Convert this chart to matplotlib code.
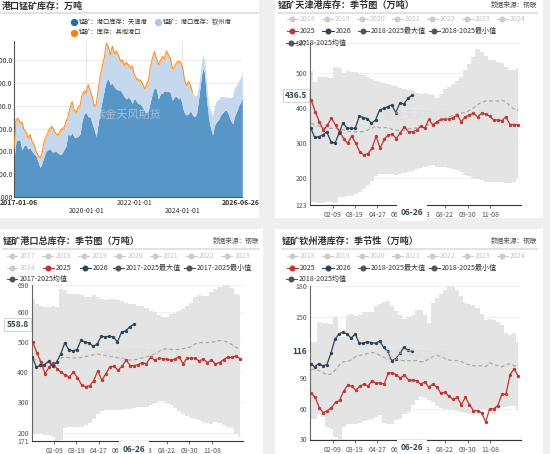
import matplotlib
matplotlib.use("Agg")
import matplotlib.pyplot as plt
import numpy as np
import pandas as pd
from matplotlib.lines import Line2D
from matplotlib.patches import Rectangle

plt.rcParams["font.family"] = ["Noto Sans CJK SC", "DejaVu Sans"]

# -----------------------------------------------------------------------------
# Panel 1: stacked port inventory (monthly readings, 万吨)
# -----------------------------------------------------------------------------
tianjin = [
    176, 245, 250, 250, 205, 225, 228, 210, 215, 200,
    188, 180, 155, 128, 147, 176, 200, 207, 212, 198,
    198, 200, 191, 185, 191, 210, 225, 279, 268, 282,
    263, 262, 266, 277, 337, 365, 370, 352, 352, 323,
    295, 265, 323, 381, 425, 470, 510, 520, 494, 499,
    484, 473, 470, 470, 455, 440, 430, 440, 428, 411,
    435, 420, 410, 408, 396, 381, 370, 380, 420, 455,
    482, 472, 430, 455, 455, 468, 462, 465, 457, 425,
    440, 442, 430, 438, 396, 367, 360, 365, 378, 360,
    352, 365, 430, 500, 565, 545,
    425, 345, 305, 272, 315, 330, 340, 360, 370, 380, 380, 360,
    335, 320, 355, 375, 400, 415, 436.5,
]
qinzhou = [
    36, 87, 87, 70, 117, 63, 49, 43, 52, 37,
    32, 12, 20, 36, 35, 56, 54, 70, 80, 105,
    84, 72, 72, 97, 101, 87, 97, 65, 113, 128,
    110, 102, 122, 118, 102, 92, 82, 131, 109, 109,
    97, 132, 138, 141, 139, 132, 156, 132, 121, 153,
    138, 159, 147, 119, 138, 131, 152, 132, 132, 153,
    92, 93, 97, 96, 95, 88, 112, 122, 142, 145,
    148, 130, 142, 137, 153, 132, 170, 152, 144, 132,
    124, 140, 160, 146, 168, 138, 122, 137, 104, 94,
    93, 82, 54, 57, 58, 55,
    70, 58, 75, 83, 86, 93, 88, 80, 72, 62, 55, 80,
    100, 125, 125, 118, 110, 110, 116,
]
other_ports = [
    6, 8, 9, 8, 7, 8, 9, 8, 7, 8,
    9, 8, 8, 7, 8, 9, 8, 8, 9, 8,
    8, 7, 8, 8, 9, 8, 8, 9, 10, 9,
    8, 8, 9, 9, 8, 9, 9, 10, 9, 8,
    9, 9, 10, 10, 11, 10, 11, 10, 10, 11,
    10, 10, 9, 10, 10, 9, 10, 9, 10, 10,
    9, 9, 8, 9, 9, 8, 9, 9, 10, 10,
    10, 9, 10, 9, 10, 10, 9, 9, 9, 8,
    9, 9, 8, 9, 8, 8, 8, 7, 7, 6,
] + [None] * 25

# -----------------------------------------------------------------------------
# Seasonal panels (weekly readings, 万吨)
# -----------------------------------------------------------------------------
tj_max = [505, 475, 488, 490, 488, 485, 518, 515, 500, 505, 504, 503, 498, 495,
          490, 482, 478, 475, 472, 470, 467, 462, 458, 455, 451, 448, 443, 440,
          442, 440, 436, 428, 440, 455, 461, 468, 478, 488, 508, 525, 545, 570,
          560, 550, 538, 537, 533, 528, 518, 510, 508, 515]
tj_min = [133, 131, 130, 128, 133, 131, 130, 145, 147, 148, 150, 155, 160, 170,
          180, 192, 205, 213, 212, 213, 212, 209, 213, 215, 217, 220, 225, 228,
          232, 235, 237, 233, 232, 232, 229, 225, 222, 218, 210, 205, 200, 197,
          194, 190, 190, 190, 190, 188, 187, 186, 188, 200]
tj_mean = [356, 352, 348, 344, 342, 342, 343, 339, 337, 334, 332, 332, 332, 333,
           338, 343, 348, 343, 344, 344, 339, 337, 335, 337, 341, 342, 343, 347,
           349, 353, 355, 358, 366, 371, 375, 379, 383, 386, 387, 393, 400, 410,
           416, 420, 420, 421, 420, 422, 418, 406, 397, 394]
tj_2025 = [423, 390, 361, 337, 351, 371, 351, 332, 313, 299, 320, 299, 275, 266,
           270, 285, 320, 285, 311, 323, 325, 313, 330, 347, 332, 332, 337, 348,
           342, 368, 351, 361, 368, 368, 368, 373, 380, 361, 375, 380, 385, 375,
           385, 383, 377, 366, 366, 364, 375, 353, 353, 351]
tj_2026 = [344, 316, 318, 323, 332, 304, 299, 328, 358, 342, 342, 342, 377, 373,
           370, 356, 366, 394, 399, 404, 409, 387, 414, 412, 428, 436.5]

tot_max = [644, 625, 618, 616, 616, 618, 616, 677, 671, 660, 660, 660, 655, 649,
           649, 655, 650, 644, 638, 642, 644, 640, 636, 630, 627, 625, 621, 619,
           614, 603, 598, 588, 582, 584, 592, 596, 603, 610, 620, 630, 649, 655,
           651, 652, 665, 677, 683, 687, 688, 680, 660, 655]
tot_min = [196, 196, 196, 191, 191, 185, 172, 174, 216, 218, 218, 218, 220, 224,
           230, 244, 262, 270, 274, 274, 275, 276, 276, 277, 279, 282, 285, 285,
           286, 290, 298, 306, 305, 298, 290, 282, 270, 260, 254, 248, 245, 240,
           236, 230, 228, 235, 232, 226, 220, 214, 195, 186]
tot_mean = [445, 440, 435, 430, 430, 430, 428, 448, 450, 448, 447, 447, 449, 452,
            455, 458, 460, 458, 455, 452, 450, 448, 446, 442, 440, 441, 444, 448,
            452, 455, 460, 468, 475, 478, 476, 475, 476, 478, 480, 485, 494, 497,
            499, 498, 500, 501, 505, 503, 500, 492, 483, 476]
tot_2025 = [499, 464, 434, 395, 417, 430, 410, 400, 390, 385, 400, 382, 358, 352,
            355, 372, 405, 373, 395, 418, 420, 407, 420, 440, 422, 422, 425, 432,
            428, 450, 440, 447, 445, 443, 440, 443, 452, 428, 447, 446, 446, 437,
            444, 432, 440, 428, 432, 442, 450, 449, 454, 445]
tot_2026 = [450, 417, 423, 425, 436, 420, 434, 460, 497, 475, 471, 475, 506, 500,
            497, 486, 493, 519, 517, 519, 517, 500, 533, 537, 550, 558.8]

qz_max = [125, 125, 145, 144, 144, 143, 150, 130, 130, 152, 153, 151, 152, 155,
          155, 155, 160, 162, 164, 165, 160, 156, 152, 148, 150, 152, 157, 157,
          152, 144, 163, 168, 172, 176, 181, 180, 176, 170, 163, 162, 161, 158,
          153, 147, 148, 147, 145, 142, 134, 132, 134, 125]
qz_min = [50, 50, 55, 52, 42, 40, 32, 30, 42, 45, 45, 45, 46, 48, 49, 50, 52, 54,
          46, 45, 45, 49, 50, 55, 57, 64, 68, 71, 70, 68, 66, 63, 61, 60, 59, 59,
          58, 57, 56, 55, 54, 56, 60, 60, 58, 55, 60, 62, 62, 63, 63, 60]
qz_mean = [98, 99, 97, 95, 93, 94, 98, 103, 106, 106, 108, 111, 112, 113, 114,
           115, 114, 112, 110, 109, 108, 107.5, 107, 107, 107, 107, 107, 106, 106,
           109, 111, 112, 111, 109, 107.5, 107, 107, 106, 104, 103, 102, 102, 102,
           101, 105, 103, 102, 101, 103, 104, 102, 101]
qz_2025 = [75, 71, 61, 56, 58, 61, 66, 68, 77, 83, 82, 78, 82, 84, 82, 87, 85, 85,
           84, 95, 95, 93, 90, 93, 88, 88, 87, 84, 86, 81, 84, 81, 75, 76, 72, 69,
           71, 64, 71, 64, 58, 58, 56, 47, 60, 60, 63, 74, 74, 93, 99, 92]
qz_2026 = [104, 101, 104, 102, 103, 114, 128, 133, 135, 133, 129, 133, 124, 124,
           125.5, 124.5, 124, 126, 120, 116, 107, 109, 114, 120, 117, 116]

season_ticks = ["02-09", "03-19", "04-27", "06-04", "07-13", "08-22", "09-30", "11-08"]
current_day = "06-26"

# -----------------------------------------------------------------------------
# Figure helpers (pixel coordinates, origin top-left)
# -----------------------------------------------------------------------------
W, H = 550, 454
fig = plt.figure(figsize=(W / 100, H / 100), dpi=100)
fig.patch.set_facecolor("#efefef")

RED = "#c23531"
NAVY = "#2f4554"
BAND = "#e4e4e4"
TXT = "#333333"


def px_axes(l, t, r, b):
    return fig.add_axes([l / W, 1 - b / H, (r - l) / W, (b - t) / H])


def ftext(x, y, s, **kw):
    return fig.text(x / W, 1 - y / H, s, **kw)


def hline(x0, x1, y, color="#dddddd", lw=1.2):
    fig.add_artist(Line2D([x0 / W, x1 / W], [1 - y / H] * 2, color=color, lw=lw))


def legend_line(xc, y, color, label, tcolor):
    yy = 1 - y / H
    fig.add_artist(Line2D([(xc - 5.5) / W, (xc + 5.5) / W], [yy, yy], color=color, lw=0.8))
    fig.add_artist(Line2D([xc / W], [yy], color=color, marker="o", ms=3.3, ls="none"))
    ftext(xc + 8, y, label, color=tcolor, fontsize=5.1, va="center", ha="left")


def legend_dot(xc, y, color, label):
    fig.add_artist(Line2D([xc / W], [1 - y / H], color=color, marker="o", ms=4.3, ls="none"))
    ftext(xc + 5, y, label, color=TXT, fontsize=4.5, va="center", ha="left")


# white panel cards on the grey page
for (l, t, r, b) in [(0, 0, 259, 218), (275, 0, 543, 218), (0, 229, 263, 454), (275, 229, 543, 454)]:
    fig.add_artist(Rectangle((l / W, 1 - b / H), (r - l) / W, (b - t) / H,
                             transform=fig.transFigure, facecolor="white", edgecolor="none", zorder=-5))

# -----------------------------------------------------------------------------
# Panel 1
# -----------------------------------------------------------------------------
dates = pd.to_datetime(["2017-01-06"]).append(pd.date_range("2017-02-01", "2026-06-01", freq="MS"))
dates = dates.append(pd.to_datetime(["2026-06-26"]))
t_arr = np.array(tianjin, dtype=float)
q_arr = np.array(qinzhou, dtype=float)
o_arr = np.array([np.nan if v is None else v for v in other_ports], dtype=float)
o_fill = np.nan_to_num(o_arr)

ax1 = px_axes(14.3, 40.7, 242.3, 196.7)
ax1.fill_between(dates, 0, t_arr, color="#5896c8", lw=0, zorder=2)
ax1.fill_between(dates, t_arr, t_arr + q_arr, color="#c6d8ee", lw=0, zorder=2)
ax1.fill_between(dates, t_arr + q_arr, t_arr + q_arr + o_fill, color="#ffb066", lw=0, zorder=2)
ax1.plot(dates, t_arr + q_arr + o_arr, color="#ff8c1a", lw=0.7, zorder=3)
ax1.set_xlim(dates[0], dates[-1])
ax1.set_ylim(0, 687)
ax1.set_yticks([0, 100, 200, 300, 400, 500, 600])
ax1.set_yticklabels(["0.000", "100.0", "200.0", "300.0", "400.0", "500.0", "600.0"])
ax1.tick_params(axis="y", length=0, pad=1.2, labelsize=5, labelcolor=TXT)
ax1.set_xticks([])
ax1.grid(axis="y", color="#e8e8e8", lw=0.6, zorder=0)
ax1.set_axisbelow(True)
for d in ["2020-01-01", "2024-01-01"]:
    ax1.axvline(pd.Timestamp(d), color="#e0e0e0", lw=0.6, zorder=1)
for s in ["top", "right"]:
    ax1.spines[s].set_visible(False)
for s in ["left", "bottom"]:
    ax1.spines[s].set_color("#555555")
    ax1.spines[s].set_linewidth(0.8)

# time-axis labels: ends bold, middle labels alternate in two rows
xt = ax1.get_xaxis_transform()
ax1.text(dates[0] - pd.Timedelta(days=215), -0.04, "2017-01-06", transform=xt, ha="left",
         va="center", fontsize=5, fontweight="bold", color=TXT, clip_on=False)
ax1.text(dates[-1] + pd.Timedelta(days=260), -0.04, "2026-06-26", transform=xt, ha="right",
         va="center", fontsize=5, fontweight="bold", color=TXT, clip_on=False)
ax1.text(pd.Timestamp("2022-01-01"), -0.04, "2022-01-01", transform=xt, ha="center", va="center",
         fontsize=5, color=TXT, clip_on=False)
for d in ["2020-01-01", "2024-01-01"]:
    ax1.text(pd.Timestamp(d), -0.09, d, transform=xt, ha="center", va="center",
             fontsize=5, color=TXT, clip_on=False)

ftext(2, 6, "港口锰矿库存：万吨", fontsize=6.5, fontweight="bold", color=TXT, va="center")
hline(0, 258, 13.3)
legend_dot(74, 22, "#1f6fb5", "锰矿：港口库存：天津港")
legend_dot(158, 22, "#aec7e8", "锰矿：港口库存：钦州港")
legend_dot(74, 32.7, "#ff7f0e", "锰矿：库存：其他港口")
ftext(128, 115, "紫金天风期货", fontsize=8, color="#d8d8d8", alpha=0.6, ha="center", va="center")

# -----------------------------------------------------------------------------
# Seasonal panels
# -----------------------------------------------------------------------------
x25 = pd.date_range("2025-01-03", periods=52, freq="7D").dayofyear - 1
x26 = pd.date_range("2026-01-02", periods=26, freq="7D").dayofyear - 1
tick_pos = [pd.Timestamp("2025-" + s).dayofyear - 1 for s in season_ticks]
cur_pos = pd.Timestamp("2025-" + current_day).dayofyear - 1


def seasonal(rect, ylim, yticks, bmax, bmin, bmean, s25, s26, last_label, box_edge="#cccccc"):
    l, t, r, b = rect
    ax = px_axes(l, t, r, b)
    ax.fill_between(x25, bmin, bmax, step="mid", color=BAND, lw=0, zorder=1)
    ax.plot(x25, bmean, color="#aaaaaa", lw=0.9, dashes=(3, 2), zorder=2)
    ax.plot(x25, s25, color=RED, lw=0.9, marker="o", ms=1.4, zorder=3)
    ax.plot(x26, s26, color=NAVY, lw=0.9, marker="o", ms=1.4, zorder=4)
    ax.set_xlim(0, 364)
    ax.set_ylim(*ylim)
    ax.set_yticks(yticks)
    ax.set_yticklabels([str(v) for v in yticks])
    ax.set_xticks(tick_pos)
    ax.set_xticklabels(season_ticks)
    ax.tick_params(axis="y", length=0, pad=2, labelsize=5, labelcolor="#555555")
    ax.tick_params(axis="x", length=2, width=0.6, color="#555555", pad=2,
                   labelsize=5, labelcolor="#555555")
    ax.grid(axis="y", color="#eeeeee", lw=0.6, zorder=0)
    ax.set_axisbelow(True)
    for s in ["top", "right"]:
        ax.spines[s].set_visible(False)
    ax.spines["left"].set_color("#666666")
    ax.spines["bottom"].set_color("#333333")
    ax.spines["left"].set_linewidth(0.8)
    ax.spines["bottom"].set_linewidth(0.8)
    # axis-pointer labels for the latest week
    ax.text(cur_pos, -(7.7 / (b - t)), current_day, transform=ax.get_xaxis_transform(),
            ha="center", va="center", fontsize=6, fontweight="bold", color=NAVY, zorder=10,
            clip_on=False, bbox=dict(boxstyle="square,pad=0.45", facecolor="white", edgecolor="none"))
    ax.text(-(3 / (r - l)), s26[-1], last_label, transform=ax.get_yaxis_transform(),
            ha="right", va="center", fontsize=6, fontweight="bold", color=NAVY, zorder=10,
            clip_on=False, bbox=dict(boxstyle="square,pad=0.25", facecolor="white",
                                     edgecolor=box_edge, lw=0.6))
    ftext((l + r) / 2, (t + b) / 2 - 8, "紫金天风期货", fontsize=8, color="#d8d8d8", alpha=0.6,
          ha="center", va="center", zorder=20)
    return ax


def header(x0, x1, y_title, title):
    ftext(x0, y_title, title, fontsize=6.6, fontweight="bold", color=TXT, va="center")
    ftext(x1, y_title, "数据来源：钢联", fontsize=4.8, color="#555555", va="center", ha="right",
          style="italic")
    hline(x0, x1, y_title + 8.3)


# Panel 2: Tianjin
seasonal((310, 42.6, 521, 205), (123, 587), [123, 200, 300, 400, 500, 587],
         tj_max, tj_min, tj_mean, tj_2025, tj_2026, "436.5")
header(278, 537, 5, "锰矿天津港库存：季节图（万吨）")
for i, yr in enumerate(range(2018, 2025)):
    legend_line(292 + 35 * i, 19.3, "#cccccc", str(yr), "#c4c4c4")
legend_line(292, 31, RED, "2025", TXT)
legend_line(328, 31, NAVY, "2026", TXT)
legend_line(363, 31, "#555555", "2018-2025最大值", TXT)
legend_line(434, 31, "#555555", "2018-2025最小值", TXT)
legend_line(291, 42.7, "#555555", "2018-2025均值", TXT)

# Panel 3: total
seasonal((31.7, 284.7, 242.7, 441.3), (171, 690), [171, 200, 300, 400, 500, 600, 690],
         tot_max, tot_min, tot_mean, tot_2025, tot_2026, "558.8")
header(3, 259, 241, "锰矿港口总库存：季节图（万吨）")
for i, yr in enumerate(range(2017, 2024)):
    legend_line(12 + 35.8 * i, 256, "#cccccc", str(yr), "#c4c4c4")
legend_line(12, 267.7, "#cccccc", "2024", "#c4c4c4")
legend_line(48, 267.7, RED, "2025", TXT)
legend_line(85, 267.7, NAVY, "2026", TXT)
legend_line(118, 267.7, "#555555", "2017-2025最大值", TXT)
legend_line(189, 267.7, "#555555", "2017-2025最小值", TXT)
legend_line(12, 279.3, "#555555", "2017-2025均值", TXT)

# Panel 4: Qinzhou
seasonal((310, 286, 521, 440.3), (29, 180), [30, 60, 90, 120, 150, 180],
         qz_max, qz_min, qz_mean, qz_2025, qz_2026, "116", box_edge="white")
header(282, 537, 241, "锰矿钦州港库存：季节性（万吨）")
for i, yr in enumerate(range(2018, 2025)):
    legend_line(292 + 35 * i, 256, "#cccccc", str(yr), "#c4c4c4")
legend_line(292, 267.7, RED, "2025", TXT)
legend_line(328, 267.7, NAVY, "2026", TXT)
legend_line(363, 267.7, "#555555", "2018-2025最大值", TXT)
legend_line(434, 267.7, "#555555", "2018-2025最小值", TXT)
legend_line(291, 279.3, "#555555", "2018-2025均值", TXT)

fig.savefig("out.png", dpi=100, facecolor=fig.get_facecolor())
